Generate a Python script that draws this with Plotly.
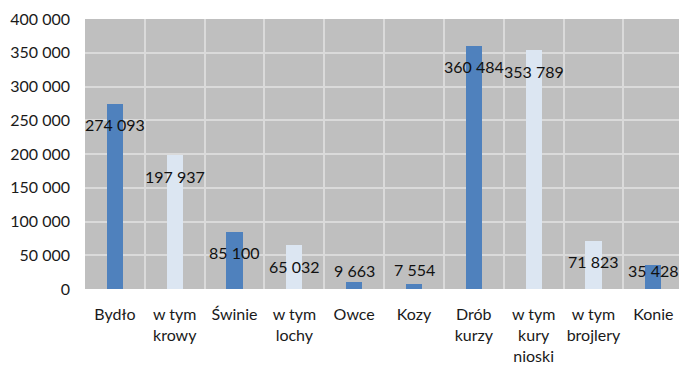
import plotly.graph_objects as go

categories = ["Bydło", "w tym<br>krowy", "Świnie", "w tym<br>lochy", "Owce", "Kozy",
              "Drób<br>kurzy", "w tym<br>kury<br>nioski", "w tym<br>brojlery", "Konie"]
values = [274093, 197937, 85100, 65032, 9663, 7554, 360484, 353789, 71823, 35428]
is_main = [True, False, True, False, True, True, True, False, False, True]

DARK = "#4F81BD"
LIGHT = "#DCE6F2"
FONT = "Lato"

W, H = 681, 367
M = dict(l=85, r=2, t=19, b=78)
Y_MAX = 400000
plot_h = H - M["t"] - M["b"]
px_per_unit = plot_h / Y_MAX

x = list(range(len(categories)))
fig = go.Figure()
fig.add_bar(
    x=x, y=values, width=0.27,
    marker=dict(color=[DARK if m else LIGHT for m in is_main], line=dict(width=0)),
    hoverinfo="skip",
)

for xi, v in zip(x, values):
    shift = max(-21, 19 - v * px_per_unit)
    fig.add_annotation(
        x=xi, y=v, yshift=shift, text=f"{v:,}".replace(",", " "),
        showarrow=False, xanchor="center", yanchor="middle",
        font=dict(family=FONT, size=16, color="#111111"),
    )

fig.update_layout(
    width=W, height=H, margin=M,
    paper_bgcolor="white", plot_bgcolor="#BFBFBF",
    separators=", ", showlegend=False,
    font=dict(family=FONT, size=16, color="#1a1a1a"),
    bargap=0,
)
fig.update_xaxes(
    range=[-0.5, 9.43], tickmode="array", tickvals=x, ticktext=categories,
    showgrid=False, zeroline=False, showline=False, ticks="",
    ticklabelstandoff=14,
    minor=dict(tickmode="array", tickvals=[i - 0.5 for i in range(len(categories) + 1)],
               showgrid=True, gridcolor="#DADADA", gridwidth=2, ticks=""),
)
fig.update_yaxes(
    range=[0, Y_MAX], dtick=50000, tickformat=",d",
    showgrid=True, gridcolor="#DADADA", gridwidth=2,
    zeroline=False, showline=False, ticks="", ticklabelstandoff=14,
)

fig.write_html("out.html")
